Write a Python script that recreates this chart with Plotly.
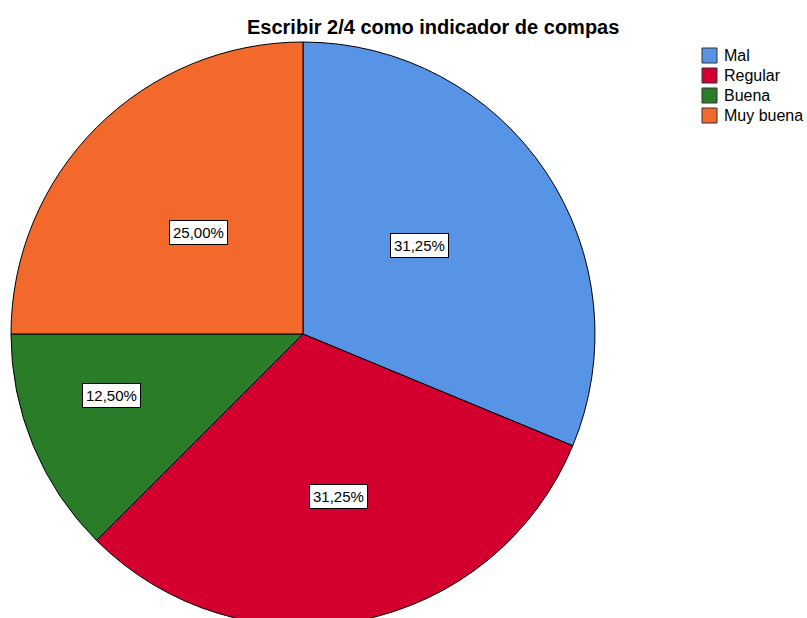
import math
import plotly.graph_objects as go

categories = ["Mal", "Regular", "Buena", "Muy buena"]
percentages = [31.25, 31.25, 12.50, 25.00]
label_texts = ["31,25%", "31,25%", "12,50%", "25,00%"]
colors = ["#5794E6", "#D3002F", "#2A7D28", "#F2692B"]
title_text = "Escribir 2/4 como indicador de compas"

W, H = 807, 640
cx, cy, R = 303, 334, 292
label_radius = [0.50, 0.57, 0.69, 0.50]
label_angle_shift = [-3.5, -1.2, 4.7, -0.7]

fig = go.Figure(go.Pie(
    labels=categories, values=percentages, sort=False, direction="clockwise",
    rotation=0, marker=dict(colors=colors, line=dict(color="#000000", width=1)),
    textinfo="none", hoverinfo="label+percent", showlegend=False,
    domain=dict(x=[(cx - R) / W, (cx + R) / W], y=[1 - (cy + R) / H, 1 - (cy - R) / H]),
))

total = sum(percentages)
cum = 0.0
for v, t, f, s in zip(percentages, label_texts, label_radius, label_angle_shift):
    mid = math.radians((cum + v / 2) / total * 360 + s)
    cum += v
    px = cx + f * R * math.sin(mid)
    py = cy - f * R * math.cos(mid)
    fig.add_annotation(x=px / W, y=1 - py / H, xref="paper", yref="paper", text=t,
                       xanchor="center", yanchor="middle",
                       showarrow=False, bgcolor="white", bordercolor="#000000", borderwidth=1,
                       borderpad=3, font=dict(family="Arial", size=15, color="#000000"))

fig.add_annotation(x=433 / W, y=1 - 27 / H, xref="paper", yref="paper",
                   xanchor="center", yanchor="middle",
                   text="<b>" + title_text + "</b>", showarrow=False,
                   font=dict(family="Arial", size=20, color="#000000"))

# manual legend
lx, ly0, step, sq = 702, 48, 20, 15
for i, (c, name) in enumerate(zip(colors, categories)):
    top = ly0 + i * step
    fig.add_shape(type="rect", xref="paper", yref="paper",
                  x0=lx / W, x1=(lx + sq) / W, y0=1 - (top + sq) / H, y1=1 - top / H,
                  fillcolor=c, line=dict(color="#333333", width=1))
    fig.add_annotation(x=(lx + sq + 5) / W, y=1 - (top + sq / 2) / H, xref="paper", yref="paper",
                       xanchor="left", yanchor="middle", text=name, showarrow=False,
                       font=dict(family="Arial", size=16, color="#000000"))

fig.update_layout(
    width=W, height=H, margin=dict(l=0, r=0, t=0, b=0),
    paper_bgcolor="white", plot_bgcolor="white", showlegend=False,
)

fig.write_html("out.html", config={"displayModeBar": False},
               post_script="document.body.style.overflow='hidden';document.documentElement.style.overflow='hidden';document.body.style.margin='0';")
